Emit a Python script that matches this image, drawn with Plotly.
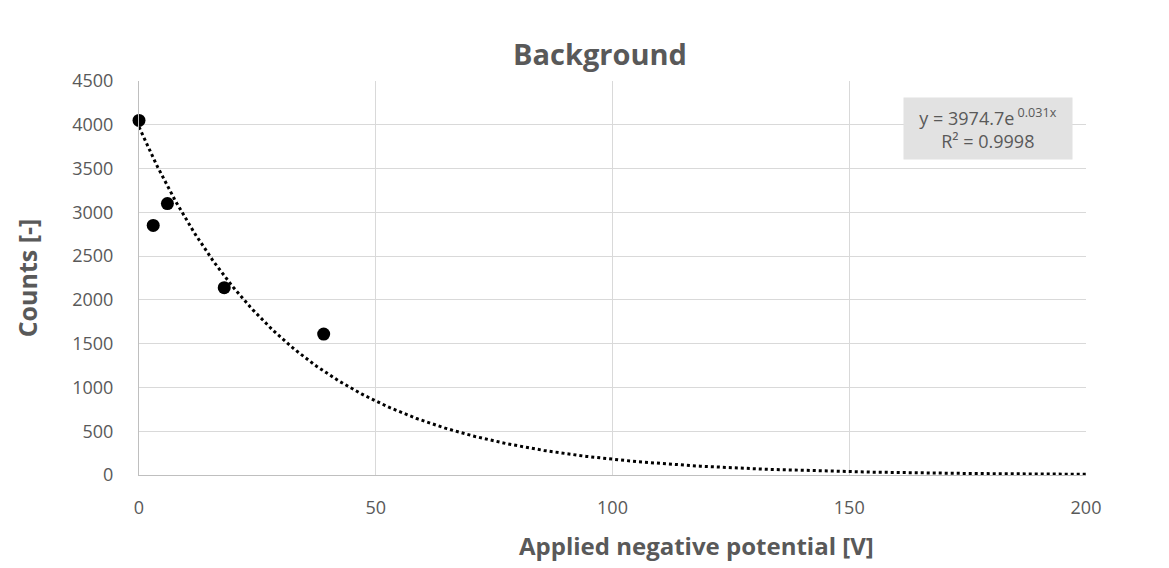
import numpy as np
import plotly.graph_objects as go

# Data
potential_v = [0, 3, 6, 18, 39]
counts = [4050, 2850, 3100, 2140, 1610]

# Exponential trendline parameters (as displayed on the chart)
fit_a = 3974.7
fit_b = -0.031
fit_r2 = 0.9998
x_ticks = [0, 50, 100, 150, 200]
y_ticks = [0, 500, 1000, 1500, 2000, 2500, 3000, 3500, 4000, 4500]

x_fit = np.linspace(0, 200, 401)
y_fit = fit_a * np.exp(fit_b * x_fit)

grey = "#595959"
grid = "#d9d9d9"
font_family = "'Open Sans', Lato, sans-serif"

fig = go.Figure()
fig.add_trace(go.Scatter(x=x_fit, y=y_fit, mode="lines",
                         line=dict(color="black", width=3, dash="dot"),
                         hoverinfo="skip", showlegend=False))
fig.add_trace(go.Scatter(x=potential_v, y=counts, mode="markers",
                         marker=dict(color="black", size=13),
                         cliponaxis=False, showlegend=False))

fig.update_layout(
    width=1169, height=568,
    margin=dict(l=139, r=83, t=81, b=93),
    paper_bgcolor="white", plot_bgcolor="white",
    font=dict(family=font_family, color=grey, size=18),
    title=dict(text="<b>Background</b>", x=600/1169, xanchor="center",
               y=1 - 55/568, yanchor="middle",
               font=dict(size=29, color=grey, family=font_family)),
    showlegend=False,
)
fig.update_xaxes(range=[0, 200], tickvals=x_ticks, showgrid=True, gridcolor=grid,
                 gridwidth=1, zeroline=False, showline=True, linecolor="#bfbfbf",
                 linewidth=1, ticks="", tickfont=dict(size=18, color=grey),
                 ticklabelstandoff=16, mirror=False)
fig.update_yaxes(range=[0, 4500], tickvals=y_ticks, showgrid=True, gridcolor=grid,
                 gridwidth=1, zeroline=False, showline=True, linecolor="#bfbfbf",
                 linewidth=1, ticks="", tickfont=dict(size=18, color=grey),
                 ticklabelstandoff=21,
                 title=dict(text="<b>Counts [-]</b>", font=dict(size=25, color=grey),
                            standoff=27))

# x-axis title, placed as in the reference (right of plot centre)
fig.add_annotation(text="<b>Applied negative potential [V]</b>", xref="paper", yref="paper",
                   x=(696 - 139) / 947, y=-(545 - 475) / 394, xanchor="center", yanchor="middle",
                   showarrow=False, font=dict(size=24, color=grey, family=font_family))

# trendline label box
fig.add_annotation(
    text=f"  y = {fit_a}e<sup> {abs(fit_b)}x</sup>  <br>R² = {fit_r2}",
    xref="paper", yref="paper", x=(1073 - 139) / 947, y=(475 - 97) / 394,
    xanchor="right", yanchor="top", showarrow=False, align="center",
    bgcolor="#e2e2e2", borderpad=6,
    font=dict(size=18, color=grey, family=font_family))

fig.write_html("out.html")
